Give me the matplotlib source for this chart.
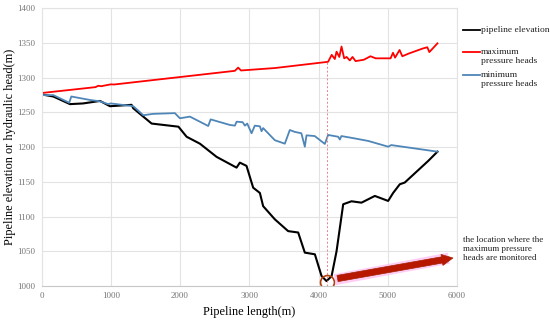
import matplotlib.pyplot as plt
from matplotlib.lines import Line2D

plt.rcParams['font.family'] = ['Liberation Serif', 'DejaVu Serif']

# pipeline elevation
elev_x = [0, 170, 411, 600, 845, 988, 1300, 1325, 1590, 1977, 2095, 2287, 2528,
          2816, 2864, 2960, 3056, 3153, 3200, 3369, 3561, 3706, 3802, 3947, 4043,
          4115, 4188, 4260, 4356, 4476, 4620, 4813, 5005, 5077, 5173, 5245, 5582, 5717]
elev_y = [1276, 1273, 1262, 1263, 1266.6, 1259, 1261, 1256, 1234, 1229.5, 1215, 1205, 1186,
          1170.5, 1177.7, 1173, 1141.6, 1134, 1115, 1096, 1079, 1077, 1048, 1045.6, 1014.4,
          1007, 1014, 1050, 1117.7, 1122, 1120, 1129.7, 1122.5, 1134, 1146.5, 1149, 1180, 1193.5]

# maximum pressure heads
max_x = [0, 780, 820, 860, 1000, 1050, 2792, 2840, 2880, 3369, 4138, 4190, 4235, 4260,
         4300, 4332, 4370, 4405, 4452, 4490, 4535, 4655, 4750, 4825, 5040, 5075, 5105,
         5170, 5210, 5305, 5500, 5570, 5600, 5717]
max_y = [1278, 1286.5, 1288.5, 1287.8, 1290.5, 1290.3, 1310, 1314.6, 1310.5, 1314, 1323,
         1333, 1327, 1337.6, 1330, 1345, 1328, 1330, 1325, 1330, 1324, 1326, 1331, 1328,
         1328, 1336, 1329, 1340, 1331, 1335, 1342, 1344, 1337, 1349.6]

# minimum pressure heads
min_x = [0, 170, 400, 430, 700, 845, 960, 1000, 1325, 1470, 1614, 1926, 1998, 2143, 2407,
         2442, 2720, 2792, 2817, 2904, 2937, 2970, 3033, 3080, 3153, 3177, 3200, 3369, 3513,
         3585, 3657, 3752, 3802, 3826, 3945, 4091, 4138, 4283, 4308, 4330, 4500, 4715, 5005,
         5050, 5717]
min_y = [1275, 1275, 1264, 1273, 1268, 1266, 1262, 1263, 1259, 1246, 1248, 1249, 1241.6,
         1244, 1230.5, 1240, 1232, 1231, 1236.7, 1236, 1231, 1234, 1220, 1231, 1230, 1223,
         1227.5, 1210, 1205, 1224.7, 1222, 1220, 1200.7, 1217, 1216, 1204.6, 1217.6, 1215,
         1211, 1216, 1213, 1209, 1200.7, 1203, 1193.5]

monitor_x = 4115
monitor_y = 1005
arrow_start = (4235, 1010)
arrow_end = (5980, 1041)

fig = plt.figure(figsize=(5.5, 3.22), dpi=100)
ax = fig.add_axes([0.0755, 0.112, 0.7555, 0.862])

grid_c = '#e3e3e3'
ax.set_xlim(0, 6000)
ax.set_ylim(1000, 1400)
ax.set_xticks(range(0, 6001, 1000))
ax.set_yticks(range(1000, 1401, 50))
ax.grid(True, color=grid_c, lw=0.8)
ax.set_axisbelow(True)
for s in ax.spines.values():
    s.set_color(grid_c)
    s.set_linewidth(0.8)
ax.spines['bottom'].set_color('#c8c8c8')
ax.tick_params(length=0, labelsize=6.5, labelcolor='#777777', pad=4.5)

ax.plot(elev_x, elev_y, color='black', lw=1.5)
ax.plot(max_x, max_y, color='#ff0000', lw=1.3)
ax.plot(min_x, min_y, color='#4f86b8', lw=1.3)

ax.plot([monitor_x, monitor_x], [1000, 1323], color='#f08080', lw=0.7, ls=(0, (2, 2)))
ax.plot([monitor_x], [monitor_y], marker='o', ms=10, mfc='none', mec='#b04010', mew=1.2)

# pink glow under the arrow
ax.plot([arrow_start[0], arrow_end[0] - 100], [arrow_start[1] - 1, arrow_end[1] - 1],
        color='#ffb8f0', lw=8, alpha=0.7, solid_capstyle='butt', zorder=2)
ax.annotate('', xy=arrow_end, xytext=arrow_start,
            arrowprops=dict(arrowstyle='simple,head_length=0.8,head_width=0.8,tail_width=0.45',
                            fc='#b81800', ec='#a02000', lw=0.5), zorder=3,
            annotation_clip=False)

fig.text(463 / 550, 1 - 249 / 322, 'the location where the\nmaximum pressure\nheads are monitored',
         fontsize=6.5, color='#222222', va='center', ha='left', linespacing=1.15)

ax.set_xlabel('Pipeline length(m)', fontsize=8.8, labelpad=4)
ax.set_ylabel('Pipeline elevation or hydraulic head(m)', fontsize=8.8)
ax.yaxis.set_label_coords(-0.062, 0.5)

# legend drawn in figure coordinates
leg = [('pipeline elevation', 'black', 30),
       ('maximum\npressure heads', '#ff0000', 52),
       ('minimum\npressure heads', '#4f86b8', 75)]
for label, col, yp in leg:
    fy = 1 - yp / 322
    fig.add_artist(Line2D([463 / 550, 480 / 550], [fy, fy], color=col, lw=1.3,
                          transform=fig.transFigure))
    fig.text(481 / 550, fy + 4.5 / 322, label, fontsize=6.8, va='top', ha='left',
             color='#222222', linespacing=1.25)

fig.savefig('out.png', dpi=100)
